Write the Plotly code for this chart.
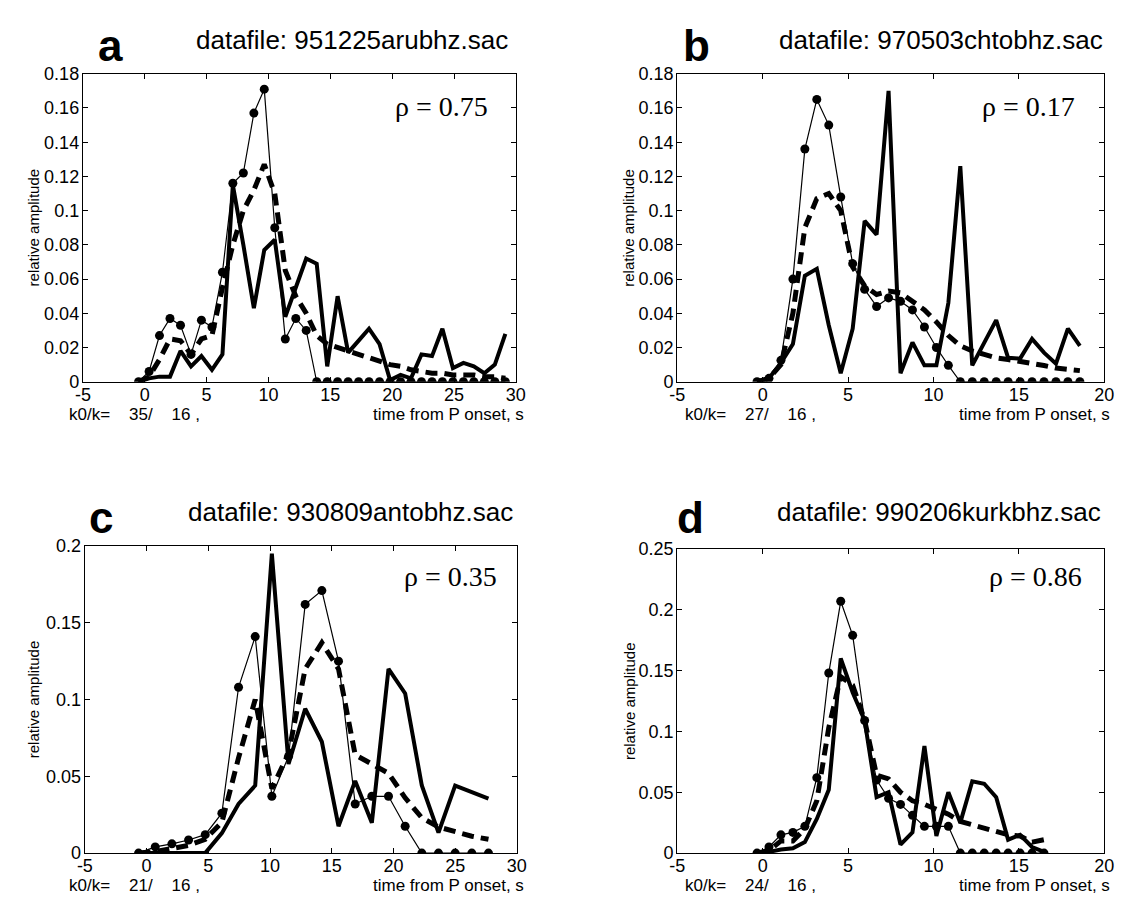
import plotly.graph_objects as go

W, H = 1125, 903

# ---- data ---------------------------------------------------------------
# panel a : 951225arubhz
t_a = [-0.5, 0.35, 1.19, 2.04, 2.89, 3.74, 4.58, 5.43, 6.28, 7.12, 7.97, 8.82,
       9.66, 10.51, 11.36, 12.21, 13.05, 13.9, 14.75, 15.59, 16.44, 17.29, 18.13,
       18.98, 19.83, 20.68, 21.52, 22.37, 23.22, 24.06, 24.91, 25.76, 26.6, 27.45,
       28.3, 29.15]
dots_a = [0, 0.006, 0.027, 0.037, 0.033, 0.016, 0.036, 0.032, 0.064, 0.116, 0.122,
          0.157, 0.171, 0.09, 0.025, 0.037, 0.030, 0, 0, 0, 0, 0, 0, 0, 0, 0, 0,
          0, 0, 0, 0, 0, 0, 0, 0, 0]
solid_a = [0, 0.002, 0.003, 0.003, 0.018, 0.009, 0.015, 0.007, 0.016, 0.115, 0.08,
           0.043, 0.077, 0.083, 0.038, 0.055, 0.072, 0.069, 0.009, 0.050, 0.017,
           0.024, 0.031, 0.022, 0.001, 0.004, 0.002, 0.016, 0.015, 0.031, 0.008,
           0.011, 0.009, 0.005, 0.010, 0.028]
dashed_a = [0, 0.003, 0.013, 0.025, 0.024, 0.016, 0.025, 0.027, 0.055, 0.08, 0.1,
            0.112, 0.127, 0.11, 0.065, 0.05, 0.04, 0.027, 0.022, 0.02, 0.018, 0.016,
            0.0145, 0.012, 0.01, 0.009, 0.007, 0.006, 0.005, 0.005, 0.004, 0.004,
            0.004, 0.003, 0.003, 0.002]

# panel b : 970503chtobhz
t_b = [-0.33, 0.37, 1.07, 1.77, 2.47, 3.17, 3.87, 4.57, 5.27, 5.97, 6.67, 7.37,
       8.07, 8.77, 9.47, 10.17, 10.87, 11.57, 12.27, 12.97, 13.67, 14.37, 15.07,
       15.77, 16.47, 17.17, 17.87, 18.57]
dots_b = [0, 0.002, 0.0125, 0.06, 0.136, 0.165, 0.15, 0.108, 0.069, 0.054, 0.044,
          0.049, 0.047, 0.042, 0.032, 0.02, 0.0096, 0, 0, 0, 0, 0, 0, 0, 0, 0, 0, 0]
solid_b = [0, 0.002, 0.011, 0.022, 0.062, 0.066, 0.033, 0.005, 0.031, 0.094, 0.086,
           0.17, 0.005, 0.023, 0.0096, 0.0096, 0.046, 0.126, 0.0096, 0.023, 0.036,
           0.014, 0.0135, 0.025, 0.017, 0.0106, 0.031, 0.021]
dashed_b = [0, 0.002, 0.01, 0.04, 0.09, 0.107, 0.11, 0.1, 0.067, 0.056, 0.051, 0.053,
            0.052, 0.047, 0.042, 0.035, 0.027, 0.021, 0.018, 0.016, 0.014, 0.013,
            0.012, 0.011, 0.0095, 0.008, 0.007, 0.0065]

# panel c : 930809antobhz
t_c = [-0.65, 0.7, 2.05, 3.4, 4.75, 6.1, 7.45, 8.8, 10.15, 11.5, 12.85, 14.2,
       15.55, 16.9, 18.25, 19.6, 20.95, 22.3, 23.65, 25.0, 26.35, 27.7]
dots_c = [0, 0.004, 0.006, 0.0085, 0.012, 0.026, 0.108, 0.141, 0.037, 0.063, 0.162,
          0.171, 0.125, 0.032, 0.037, 0.037, 0.0175, 0, 0, 0, 0, 0]
solid_c = [0, 0, 0, 0, 0, 0.013, 0.032, 0.044, 0.195, 0.058, 0.094, 0.0725, 0.0175,
           0.047, 0.0197, 0.12, 0.104, 0.044, 0.0133, 0.044, 0.04, 0.0355]
dashed_c = [0, 0.001, 0.003, 0.005, 0.009, 0.02, 0.062, 0.1, 0.042, 0.065, 0.12,
            0.137, 0.12, 0.064, 0.058, 0.052, 0.036, 0.023, 0.017, 0.014, 0.011, 0.009]

# panel d : 990206kurkbhz
t_d = [-0.33, 0.37, 1.07, 1.77, 2.47, 3.17, 3.87, 4.57, 5.27, 5.97, 6.67, 7.37,
       8.07, 8.77, 9.47, 10.17, 10.87, 11.57, 12.27, 12.97, 13.67, 14.37, 15.07,
       15.77, 16.47]
dots_d = [0, 0.005, 0.015, 0.017, 0.022, 0.062, 0.148, 0.207, 0.179, 0.109, 0.06,
          0.045, 0.04, 0.031, 0.022, 0.022, 0.022, 0, 0, 0, 0, 0, 0, 0, 0]
solid_d = [0, 0.001, 0.003, 0.004, 0.009, 0.028, 0.052, 0.16, 0.132, 0.109, 0.046,
           0.05, 0.007, 0.017, 0.088, 0.014, 0.05, 0.025, 0.059, 0.057, 0.046, 0.011,
           0.015, 0.005, 0.001]
dashed_d = [0, 0.002, 0.01, 0.01, 0.02, 0.043, 0.103, 0.145, 0.138, 0.109, 0.064,
            0.061, 0.05, 0.043, 0.04, 0.036, 0.032, 0.026, 0.023, 0.02, 0.018, 0.015,
            0.014, 0.009, 0.011]

letters = ["a", "b", "c", "d"]
datafiles = ["951225arubhz.sac", "970503chtobhz.sac", "930809antobhz.sac", "990206kurkbhz.sac"]
rho = ["0.75", "0.17", "0.35", "0.86"]
k0 = ["35", "27", "21", "24"]
k = ["16", "16", "16", "16"]

x_ticks_long = [-5, 0, 5, 10, 15, 20, 25, 30]
x_ticks_short = [-5, 0, 5, 10, 15, 20]
x_text_long = ["-5", "0", "5", "10", "15", "20", "25", "30"]
x_text_short = ["-5", "0", "5", "10", "15", "20"]
y_ticks_018 = [0, 0.02, 0.04, 0.06, 0.08, 0.1, 0.12, 0.14, 0.16, 0.18]
y_text_018 = ["0", "0.02", "0.04", "0.06", "0.08", "0.1", "0.12", "0.14", "0.16", "0.18"]
y_ticks_02 = [0, 0.05, 0.1, 0.15, 0.2]
y_text_02 = ["0", "0.05", "0.1", "0.15", "0.2"]
y_ticks_025 = [0, 0.05, 0.1, 0.15, 0.2, 0.25]
y_text_025 = ["0", "0.05", "0.1", "0.15", "0.2", "0.25"]

# ---- layout --------------------------------------------------------------
SANS = "Liberation Sans, Arial, sans-serif"
SERIF = "Liberation Serif, Times New Roman, serif"


def px_x(p):
    return p / W


def px_y(p):
    return 1 - p / H


# plot boxes in pixels: left, right, top, bottom
boxes = [(68, 508, 57, 372), (672, 1106, 57, 372),
         (70, 509, 540, 854), (672, 1106, 543, 854)]
series = [(t_a, dots_a, solid_a, dashed_a), (t_b, dots_b, solid_b, dashed_b),
          (t_c, dots_c, solid_c, dashed_c), (t_d, dots_d, solid_d, dashed_d)]
xr = [[-5, 30], [-5, 20], [-5, 30], [-5, 20]]
xt = [(x_ticks_long, x_text_long), (x_ticks_short, x_text_short),
      (x_ticks_long, x_text_long), (x_ticks_short, x_text_short)]
yr = [[0, 0.18], [0, 0.18], [0, 0.2], [0, 0.25]]
yt = [(y_ticks_018, y_text_018), (y_ticks_018, y_text_018),
      (y_ticks_02, y_text_02), (y_ticks_025, y_text_025)]

fig = go.Figure()
annotations = []

for i in range(4):
    sfx = "" if i == 0 else str(i + 1)
    t, dots, solid, dashed = series[i]
    xa, ya = "x" + sfx, "y" + sfx

    fig.add_trace(go.Scatter(x=t, y=solid, mode="lines", xaxis=xa, yaxis=ya,
                             line=dict(color="black", width=4), showlegend=False))
    fig.add_trace(go.Scatter(x=t, y=dashed, mode="lines", xaxis=xa, yaxis=ya,
                             line=dict(color="black", width=5, dash="12px,7px"),
                             showlegend=False))
    fig.add_trace(go.Scatter(x=t, y=dots, mode="lines+markers", xaxis=xa, yaxis=ya,
                             line=dict(color="black", width=1.2),
                             marker=dict(color="black", size=9), showlegend=False))

    l, r, top, bot = boxes[i]
    axis_common = dict(showline=True, linecolor="black", linewidth=1.3, mirror="ticks",
                       ticks="inside", ticklen=5, tickwidth=1.2, tickcolor="black",
                       showgrid=False, zeroline=False,
                       tickfont=dict(family=SANS, size=18, color="black"))
    fig.update_layout(**{
        "xaxis" + sfx: dict(domain=[px_x(l), px_x(r)], range=xr[i], anchor=ya,
                            tickvals=xt[i][0], ticktext=xt[i][1],
                            ticklabelstandoff=-4, **axis_common),
        "yaxis" + sfx: dict(domain=[px_y(bot), px_y(top)], range=yr[i], anchor=xa,
                            tickvals=yt[i][0], ticktext=yt[i][1],
                            ticklabelstandoff=-1, **axis_common),
    })

    row_top = i < 2
    letter_x = [96, 692, 86, 685][i]
    annotations.append(dict(text="<b>%s</b>" % letters[i], x=px_x(letter_x),
                            y=px_y(28 if row_top else 511), xref="paper", yref="paper",
                            showarrow=False, xanchor="center", yanchor="middle",
                            font=dict(family=SANS, size=44, color="black")))
    title_r = [502, 1107, 507, 1105][i]
    annotations.append(dict(text="datafile: " + datafiles[i], x=px_x(title_r),
                            y=px_y(23 if row_top else 505), xref="paper", yref="paper",
                            showarrow=False, xanchor="right", yanchor="middle",
                            font=dict(family=SANS, size=26, color="black")))
    rho_r = [482, 1078, 491, 1085][i]
    annotations.append(dict(text="ρ = " + rho[i], x=px_x(rho_r),
                            y=px_y(90 if row_top else 571), xref="paper", yref="paper",
                            showarrow=False, xanchor="right", yanchor="middle",
                            font=dict(family=SERIF, size=28, color="black")))
    ylab_x = [18, 623, 18, 623][i]
    annotations.append(dict(text="relative amplitude", x=px_x(ylab_x),
                            y=px_y((top + bot) / 2), xref="paper", yref="paper",
                            showarrow=False, textangle=-90, xanchor="center", yanchor="middle",
                            font=dict(family=SANS, size=15, color="black")))
    nb = "\u00a0"
    k_text = "k0/k=" + nb * 4 + k0[i] + "/" + nb * 4 + k[i] + " ,"
    k_left = [52, 678, 52, 678][i]
    annotations.append(dict(text=k_text, x=px_x(k_left), y=px_y(bot + 33),
                            xref="paper", yref="paper", showarrow=False,
                            xanchor="left", yanchor="middle",
                            font=dict(family=SANS, size=17, color="black")))
    lab_r = [518, 1114, 518, 1114][i]
    annotations.append(dict(text="time from P onset, s", x=px_x(lab_r), y=px_y(bot + 33),
                            xref="paper", yref="paper", showarrow=False,
                            xanchor="right", yanchor="middle",
                            font=dict(family=SANS, size=17, color="black")))

fig.update_layout(width=W, height=H, margin=dict(l=0, r=0, t=0, b=0),
                  paper_bgcolor="white", plot_bgcolor="white",
                  annotations=annotations, showlegend=False)

fig.write_html("out.html")
